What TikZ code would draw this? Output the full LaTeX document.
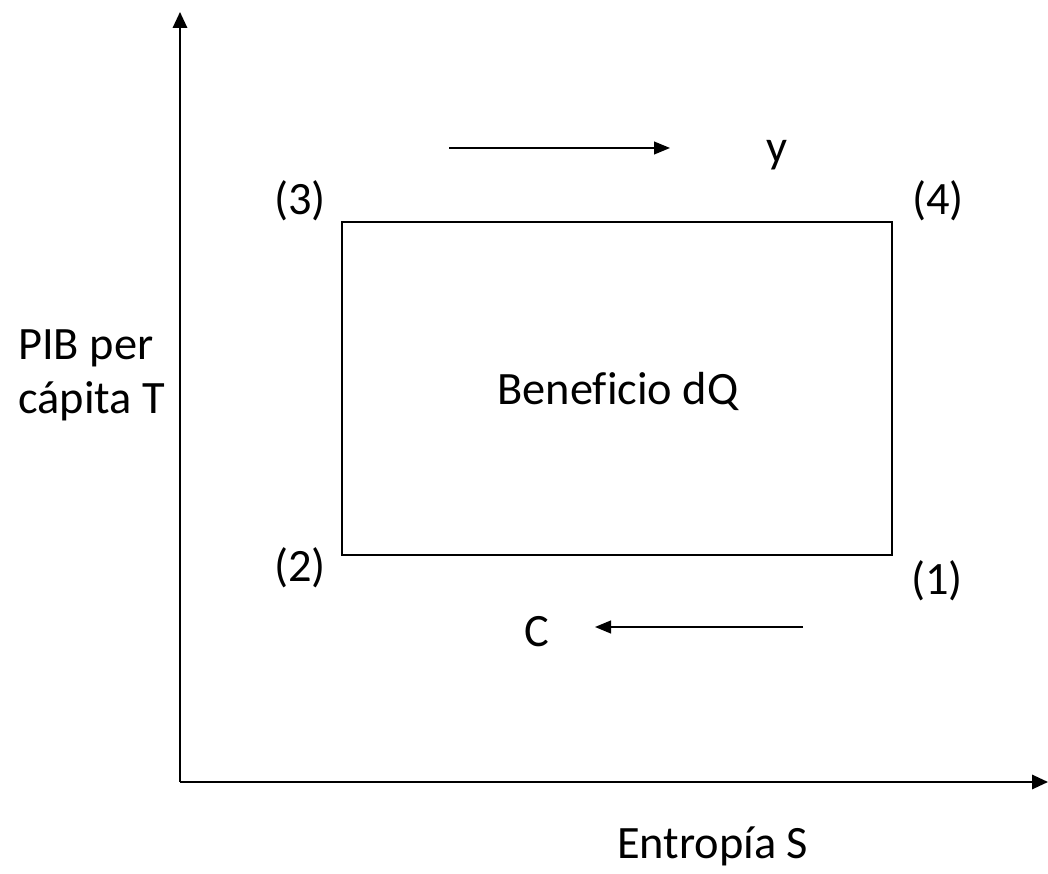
\documentclass[tikz,border=0pt]{standalone}
\usepackage{fontspec}
\setmainfont[Ligatures=NoCommon]{Carlito}
\usetikzlibrary{arrows.meta,positioning,calc}

\begin{document}
\begin{tikzpicture}[
  lbl/.style={font=\fontsize{33}{39}\selectfont, inner sep=0pt, anchor=base},
  axis/.style={-{Triangle[length=4mm, width=3.6mm]}, line width=1.5pt, black},
  flow/.style={-{Triangle[length=4mm, width=3.2mm]}, line width=1.2pt, black},
  cyc/.style={line width=1.3pt, black}
]
\useasboundingbox (0,0) rectangle (26.2,21.85);

% ================= AXES =================
\coordinate (orig) at (4.5,2.3);
\coordinate (ytop) at (4.5,21.55);
\coordinate (xend) at (26.2,2.3);
\draw[axis] (orig) -- (ytop);
\draw[axis] (orig) -- (xend);
\node[lbl, align=left, anchor=base west] (ylab) at (0.45,11.5) {PIB per\\ cápita T};
\node[lbl, anchor=base west] (xlab) at (15.425,0.375) {Entropía S};

% ================= CYCLE =================
\coordinate (p1) at (22.3,7.975);
\coordinate (p2) at (8.55,7.975);
\coordinate (p3) at (8.55,16.3);
\coordinate (p4) at (22.3,16.3);
\draw[cyc] (p1) -- (p2) -- (p3) -- (p4) -- cycle;

\node[lbl] (n1) at (23.425,6.975) {(1)};
\node[lbl] (n2) at (7.5,7.3) {(2)};
\node[lbl] (n3) at (7.5,16.475) {(3)};
\node[lbl] (n4) at (23.45,16.475) {(4)};
\node[lbl] (ben) at (15.45,11.725) {Beneficio dQ};

% --- direction arrows ---
\coordinate (ya) at (11.225,18.15);
\coordinate (yb) at (16.75,18.15);
\draw[flow] (ya) -- (yb);
\node[lbl] (ylet) at (19.425,17.775) {y};

\coordinate (ca) at (20.075,6.175);
\coordinate (cb) at (14.875,6.175);
\draw[flow] (ca) -- (cb);
\node[lbl] (clet) at (13.425,5.675) {C};
\end{tikzpicture}
\end{document}
